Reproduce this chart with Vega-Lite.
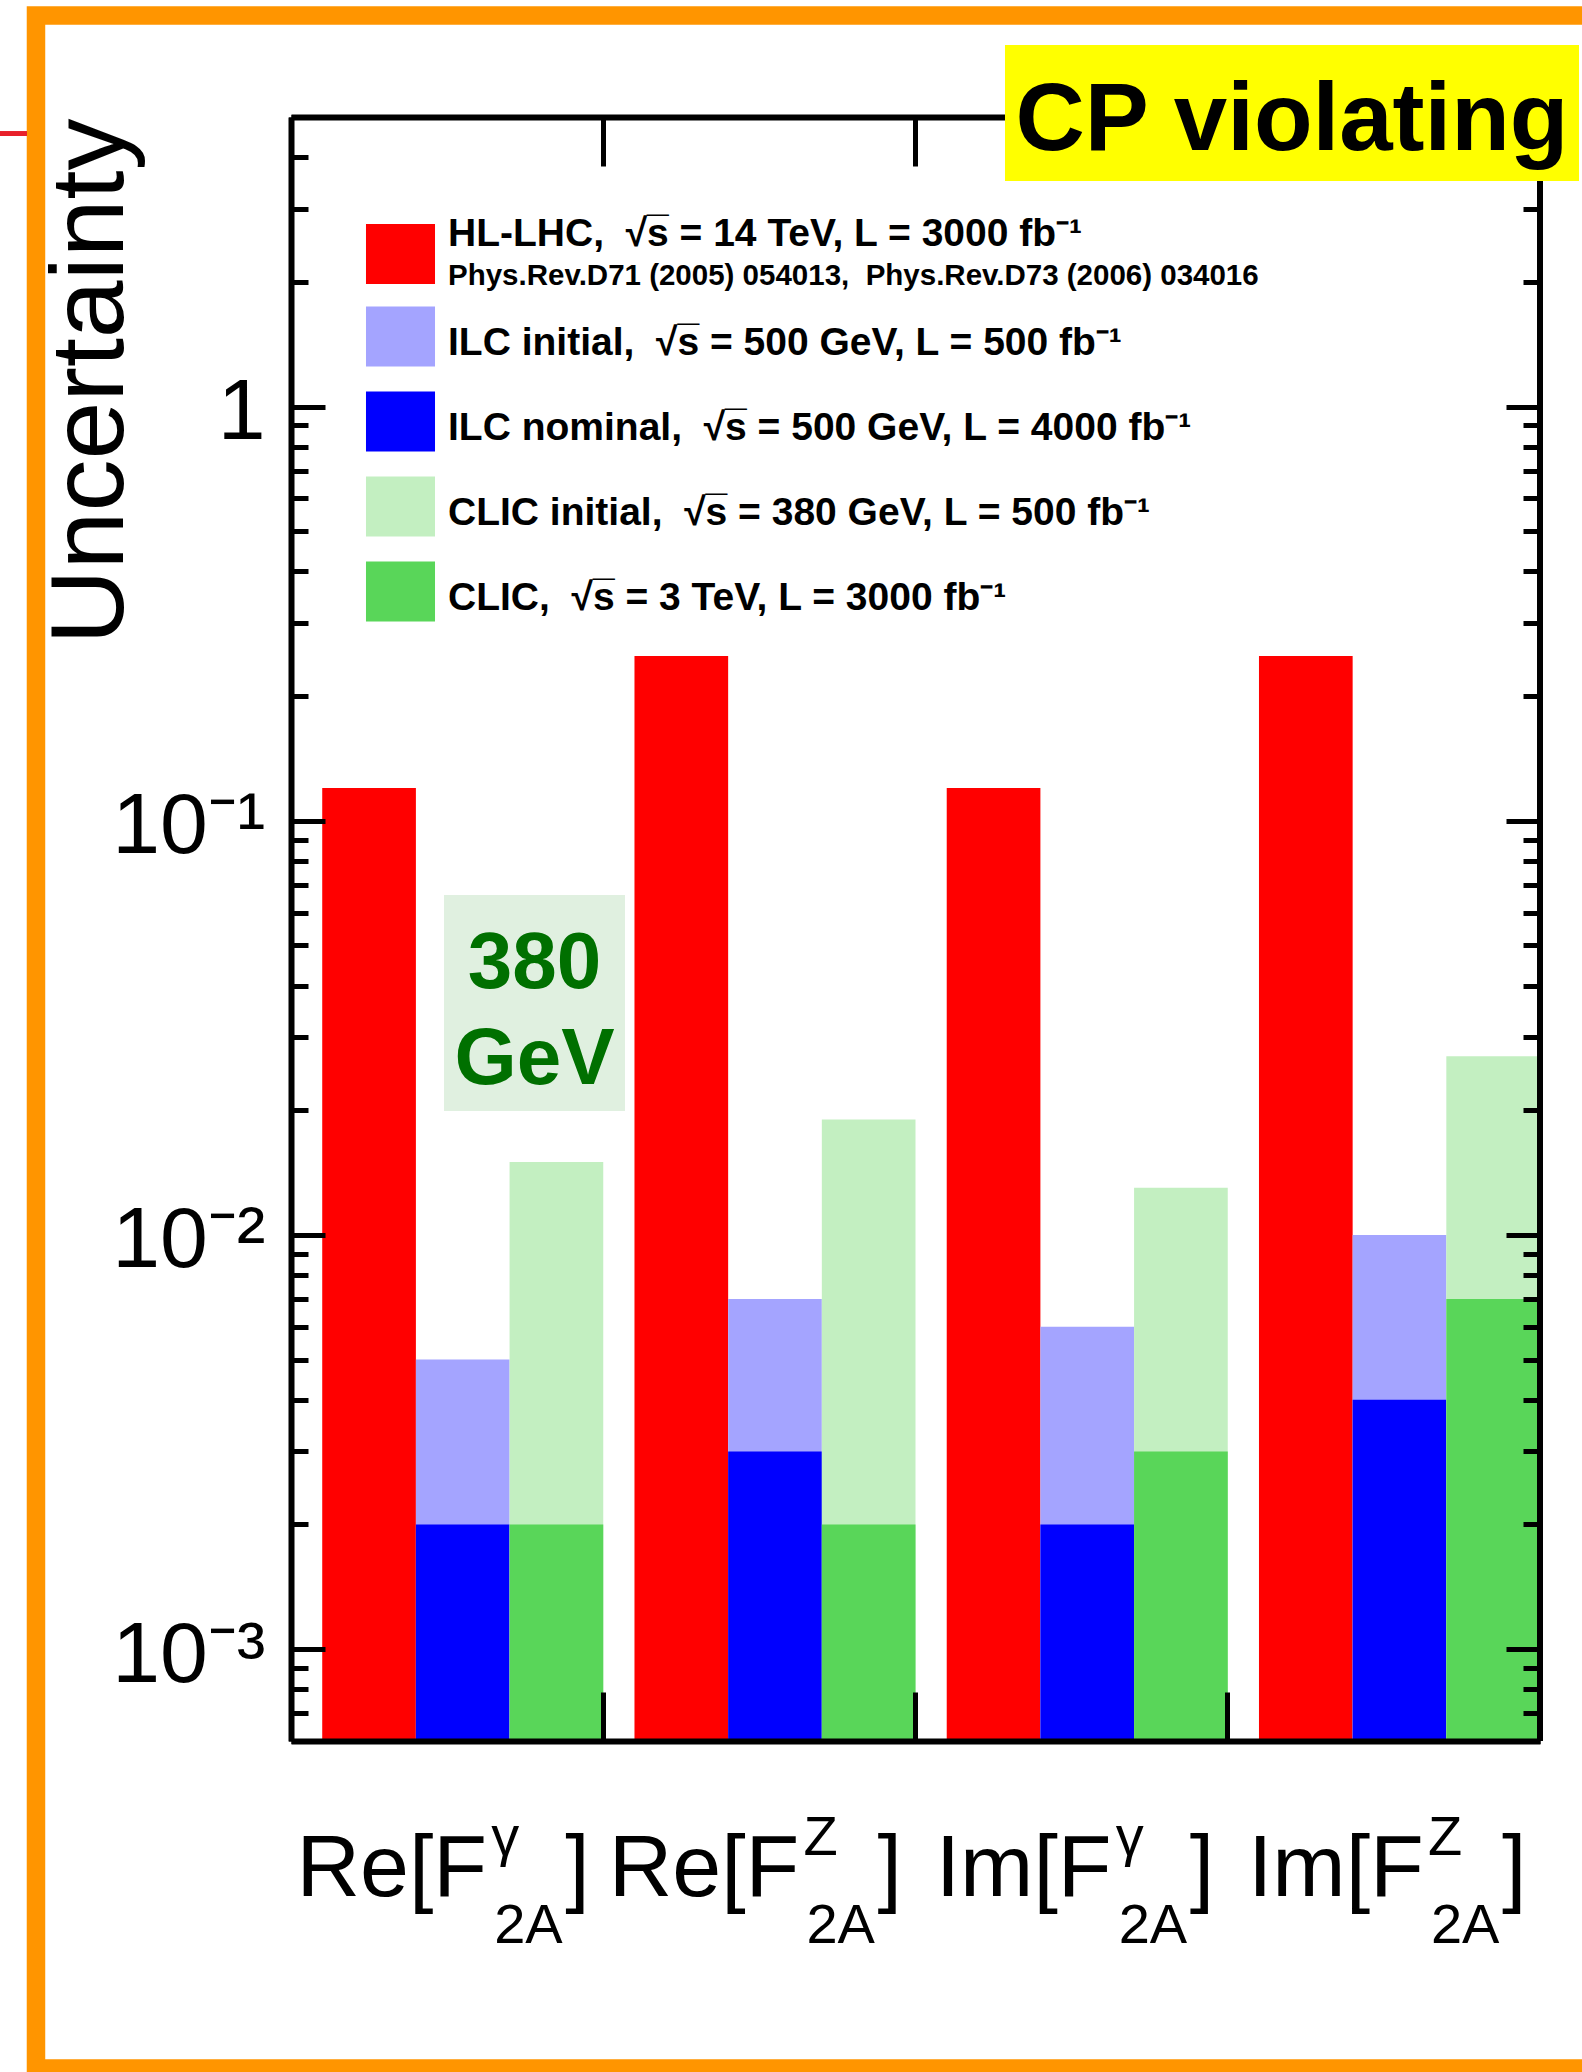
{
  "$schema": "https://vega.github.io/schema/vega-lite/v6.json",
  "width": 1249,
  "height": 1624,
  "autosize": {"type": "none"},
  "padding": {"left": 291, "top": 117, "right": 42, "bottom": 331},
  "background": "white",
  "config": {"view": {"stroke": null}, "font": "Liberation Sans", "axis": {"grid": false}},
  "datasets": {
    "bars": [
      {"param": "Re F2A γ", "collider": "HL-LHC", "series": "HL-LHC", "value": 0.12},
      {"param": "Re F2A γ", "collider": "ILC", "series": "ILC initial", "value": 0.005},
      {"param": "Re F2A γ", "collider": "ILC", "series": "ILC nominal", "value": 0.002},
      {"param": "Re F2A γ", "collider": "CLIC", "series": "CLIC initial", "value": 0.015},
      {"param": "Re F2A γ", "collider": "CLIC", "series": "CLIC", "value": 0.002},
      {"param": "Re F2A Z", "collider": "HL-LHC", "series": "HL-LHC", "value": 0.25},
      {"param": "Re F2A Z", "collider": "ILC", "series": "ILC initial", "value": 0.007},
      {"param": "Re F2A Z", "collider": "ILC", "series": "ILC nominal", "value": 0.003},
      {"param": "Re F2A Z", "collider": "CLIC", "series": "CLIC initial", "value": 0.019},
      {"param": "Re F2A Z", "collider": "CLIC", "series": "CLIC", "value": 0.002},
      {"param": "Im F2A γ", "collider": "HL-LHC", "series": "HL-LHC", "value": 0.12},
      {"param": "Im F2A γ", "collider": "ILC", "series": "ILC initial", "value": 0.006},
      {"param": "Im F2A γ", "collider": "ILC", "series": "ILC nominal", "value": 0.002},
      {"param": "Im F2A γ", "collider": "CLIC", "series": "CLIC initial", "value": 0.013},
      {"param": "Im F2A γ", "collider": "CLIC", "series": "CLIC", "value": 0.003},
      {"param": "Im F2A Z", "collider": "HL-LHC", "series": "HL-LHC", "value": 0.25},
      {"param": "Im F2A Z", "collider": "ILC", "series": "ILC initial", "value": 0.01},
      {"param": "Im F2A Z", "collider": "ILC", "series": "ILC nominal", "value": 0.004},
      {"param": "Im F2A Z", "collider": "CLIC", "series": "CLIC initial", "value": 0.027},
      {"param": "Im F2A Z", "collider": "CLIC", "series": "CLIC", "value": 0.007}
    ],
    "params": [
      {"param": "Re F2A γ", "pre": "Re[F", "sup": "γ"},
      {"param": "Re F2A Z", "pre": "Re[F", "sup": "Z"},
      {"param": "Im F2A γ", "pre": "Im[F", "sup": "γ"},
      {"param": "Im F2A Z", "pre": "Im[F", "sup": "Z"}
    ]
  },
  "resolve": {"axis": {"x": "independent", "y": "independent"}, "scale": {"color": "independent"}, "legend": {"color": "independent"}},
  "layer": [
    {
      "data": {"values": [{}]},
      "mark": {"type": "rect", "filled": false, "stroke": "#ff9500", "strokeWidth": 18.5},
      "encoding": {
        "x": {"datum": "Re F2A γ", "type": "nominal", "bandPosition": -0.8167, "axis": null,
              "scale": {"type": "band", "domain": ["Re F2A γ", "Re F2A Z", "Im F2A γ", "Im F2A Z"], "paddingInner": 0, "paddingOuter": 0}},
        "x2": {"datum": "Im F2A Z", "bandPosition": 1.1921},
        "y": {"datum": 8.79, "type": "quantitative", "axis": null, "scale": {"type": "log", "domain": [0.0006, 5], "nice": false}},
        "y2": {"datum": 0.00009716}
      }
    },
    {
      "data": {"values": [{}]},
      "mark": {"type": "rule", "stroke": "#e8202a", "strokeWidth": 5},
      "encoding": {
        "x": {"datum": "Re F2A γ", "type": "nominal", "bandPosition": -0.932, "axis": null},
        "x2": {"datum": "Re F2A γ", "bandPosition": -0.8455},
        "y": {"datum": 4.561, "type": "quantitative", "axis": null}
      }
    },
    {
      "data": {"values": [{}]},
      "mark": {"type": "rect", "fill": "#e0f0e0"},
      "encoding": {
        "x": {"datum": "Re F2A γ", "type": "nominal", "bandPosition": 0.49, "axis": null},
        "x2": {"datum": "Re F2A Z", "bandPosition": 0.0697},
        "y": {"datum": 0.06616, "type": "quantitative", "axis": null},
        "y2": {"datum": 0.019915}
      }
    },
    {
      "data": {"name": "bars"},
      "transform": [{"filter": "datum.series === 'HL-LHC'"}],
      "mark": {"type": "bar"},
      "encoding": {
        "x": {"field": "param", "type": "nominal",
              "scale": {"type": "band", "domain": ["Re F2A γ", "Re F2A Z", "Im F2A γ", "Im F2A Z"], "paddingInner": 0, "paddingOuter": 0},
              "axis": {"orient": "bottom", "title": null, "labels": false, "bandPosition": 0, "tickSize": -49, "tickWidth": 5, "tickColor": "black", "domainColor": "black", "domainWidth": 6, "zindex": 1}},
        "xOffset": {"field": "collider", "type": "nominal",
                    "scale": {"domain": ["HL-LHC", "ILC", "CLIC"], "paddingInner": 0, "paddingOuter": 0.16667, "align": 1}},
        "y": {"field": "value", "type": "quantitative", "stack": null,
              "scale": {"type": "log", "domain": [0.0006, 5], "nice": false},
              "axis": {"orient": "left",
                       "values": [0.0006, 0.0007, 0.0008, 0.0009, 0.001, 0.002, 0.003, 0.004, 0.005, 0.006, 0.007, 0.008, 0.009, 0.01, 0.02, 0.03, 0.04, 0.05, 0.06, 0.07, 0.08, 0.09, 0.1, 0.2, 0.3, 0.4, 0.5, 0.6, 0.7, 0.8, 0.9, 1, 2, 3, 4, 5],
                       "labelExpr": "datum.value === 1 ? '1' : datum.value === 0.1 ? '10⁻¹' : datum.value === 0.01 ? '10⁻²' : datum.value === 0.001 ? '10⁻³' : ''",
                       "labelFont": "Liberation Sans", "labelFontSize": 86, "labelColor": "black", "labelPadding": 60, "labelOffset": 6,
                       "labelOverlap": false, "labelFlush": false, "labelBound": false,
                       "tickSize": {"condition": {"test": "datum.value === 1 || datum.value === 0.1 || datum.value === 0.01 || datum.value === 0.001", "value": -34}, "value": -17},
                       "tickWidth": 5, "tickColor": "black", "domainColor": "black", "domainWidth": 6,
                       "title": "Uncertainty", "titleFont": "Liberation Sans", "titleFontSize": 104, "titleFontWeight": "normal", "titleColor": "black",
                       "titleAngle": 270, "titleAlign": "right", "titleBaseline": "alphabetic", "titleX": -169, "titleY": 1, "zindex": 1}},
        "color": {"field": "series", "type": "nominal",
                  "scale": {"domain": ["HL-LHC"], "range": ["#ff0000"]},
                  "legend": {"orient": "none", "legendX": 70.5, "legendY": 98, "title": null, "padding": 0,
                             "symbolType": "M-0.885,-0.77H0.885V0.77H-0.885Z", "symbolSize": 6084, "symbolStrokeWidth": 0,
                             "labelFont": "Liberation Sans", "labelFontWeight": "bold", "labelFontSize": 39, "labelColor": "black",
                             "labelBaseline": "bottom", "labelLimit": 2000, "labelOffset": 8.5,
                             "labelExpr": "'HL-LHC,\u00a0 √s̅ = 14 TeV, L = 3000 fb⁻¹'"}}
      }
    },
    {
      "data": {"name": "bars"},
      "transform": [{"filter": "datum.series !== 'HL-LHC'"}],
      "mark": {"type": "bar"},
      "encoding": {
        "x": {"field": "param", "type": "nominal", "axis": null},
        "xOffset": {"field": "collider", "type": "nominal"},
        "y": {"field": "value", "type": "quantitative", "stack": null, "axis": null},
        "color": {"field": "series", "type": "nominal",
                  "scale": {"domain": ["ILC initial", "ILC nominal", "CLIC initial", "CLIC"],
                            "range": ["#a4a4ff", "#0000ff", "#c3efc1", "#59d659"]},
                  "legend": {"orient": "none", "legendX": 70.5, "legendY": 186.5, "title": null, "padding": 0,
                             "symbolType": "M-0.885,-0.924H0.885V0.616H-0.885Z", "symbolSize": 6084, "symbolStrokeWidth": 0,
                             "labelFont": "Liberation Sans", "labelFontWeight": "bold", "labelFontSize": 39, "labelColor": "black",
                             "labelLimit": 2000, "labelOffset": 8.5, "rowPadding": 21,
                             "labelExpr": "datum.value === 'ILC initial' ? 'ILC initial,\u00a0 √s̅ = 500 GeV, L = 500 fb⁻¹' : datum.value === 'ILC nominal' ? 'ILC nominal,\u00a0 √s̅ = 500 GeV, L = 4000 fb⁻¹' : datum.value === 'CLIC initial' ? 'CLIC initial,\u00a0 √s̅ = 380 GeV, L = 500 fb⁻¹' : 'CLIC,\u00a0 √s̅ = 3 TeV, L = 3000 fb⁻¹'"}}
      }
    },
    {
      "data": {"values": [{}]},
      "mark": {"type": "rule", "stroke": "black", "strokeWidth": 6},
      "encoding": {
        "x": {"datum": "Im F2A Z", "type": "nominal", "bandPosition": 1, "axis": null},
        "y": {"datum": 5, "type": "quantitative", "axis": null},
        "y2": {"datum": 0.0006}
      }
    },
    {
      "data": {"name": "params"},
      "mark": {"type": "text", "align": "right", "baseline": "alphabetic", "dx": 40, "dy": 155, "fontSize": 88, "font": "Liberation Sans", "fill": "black"},
      "encoding": {
        "x": {"field": "param", "type": "nominal",
              "axis": {"orient": "top", "title": null, "labels": false, "bandPosition": 0, "tickSize": -49, "tickWidth": 5, "tickColor": "black", "domainColor": "black", "domainWidth": 6, "zindex": 0}},
        "y": {"datum": 0.0006, "type": "quantitative",
              "axis": {"orient": "right", "title": null, "labels": false, "domain": false,
                       "values": [0.0006, 0.0007, 0.0008, 0.0009, 0.001, 0.002, 0.003, 0.004, 0.005, 0.006, 0.007, 0.008, 0.009, 0.01, 0.02, 0.03, 0.04, 0.05, 0.06, 0.07, 0.08, 0.09, 0.1, 0.2, 0.3, 0.4, 0.5, 0.6, 0.7, 0.8, 0.9, 1, 2, 3],
                       "tickSize": {"condition": {"test": "datum.value === 1 || datum.value === 0.1 || datum.value === 0.01 || datum.value === 0.001", "value": -34}, "value": -17},
                       "tickWidth": 5, "tickColor": "black", "zindex": 1}},
        "text": {"field": "pre"}
      }
    },
    {
      "data": {"name": "params"},
      "mark": {"type": "text", "align": "left", "baseline": "alphabetic", "dx": 44, "dy": 114, "fontSize": 56, "font": "Liberation Sans", "fill": "black"},
      "encoding": {
        "x": {"field": "param", "type": "nominal", "axis": null},
        "y": {"datum": 0.0006, "type": "quantitative", "axis": null},
        "text": {"field": "sup"}
      }
    },
    {
      "data": {"name": "params"},
      "mark": {"type": "text", "align": "left", "baseline": "alphabetic", "dx": 47, "dy": 202, "fontSize": 56, "font": "Liberation Sans", "fill": "black", "text": "2A"},
      "encoding": {
        "x": {"field": "param", "type": "nominal", "axis": null},
        "y": {"datum": 0.0006, "type": "quantitative", "axis": null}
      }
    },
    {
      "data": {"name": "params"},
      "mark": {"type": "text", "align": "left", "baseline": "alphabetic", "dx": 118, "dy": 155, "fontSize": 88, "font": "Liberation Sans", "fill": "black", "text": "]"},
      "encoding": {
        "x": {"field": "param", "type": "nominal", "axis": null},
        "y": {"datum": 0.0006, "type": "quantitative", "axis": null}
      }
    },
    {
      "data": {"values": [{}]},
      "mark": {"type": "rect", "fill": "#ffff00"},
      "encoding": {
        "x": {"datum": "Im F2A γ", "type": "nominal", "bandPosition": 0.2866, "axis": null},
        "x2": {"datum": "Im F2A Z", "bandPosition": 1.1249},
        "y": {"datum": 7.461, "type": "quantitative", "axis": null},
        "y2": {"datum": 3.503}
      }
    },
    {
      "data": {"values": [{}]},
      "mark": {"type": "text", "align": "center", "baseline": "alphabetic", "fontSize": 96, "fontWeight": "bold", "font": "Liberation Sans", "fill": "black", "text": "CP violating"},
      "encoding": {
        "x": {"datum": "Im F2A Z", "type": "nominal", "bandPosition": 0.2058, "axis": null},
        "y": {"datum": 4.162, "type": "quantitative", "axis": null}
      }
    },
    {
      "data": {"values": [{}]},
      "mark": {"type": "text", "align": "center", "baseline": "alphabetic", "fontSize": 80, "fontWeight": "bold", "font": "Liberation Sans", "fill": "#007000", "lineHeight": 96, "text": ["380", "GeV"]},
      "encoding": {
        "x": {"datum": "Re F2A γ", "type": "nominal", "bandPosition": 0.7798, "axis": null},
        "y": {"datum": 0.039456, "type": "quantitative", "axis": null}
      }
    },
    {
      "data": {"values": [{}]},
      "mark": {"type": "text", "align": "left", "baseline": "alphabetic", "fontSize": 29.5, "fontWeight": "bold", "font": "Liberation Sans", "fill": "black", "text": "Phys.Rev.D71 (2005) 054013,\u00a0 Phys.Rev.D73 (2006) 034016"},
      "encoding": {
        "x": {"datum": "Re F2A γ", "type": "nominal", "bandPosition": 0.5028, "axis": null},
        "y": {"datum": 1.9652, "type": "quantitative", "axis": null}
      }
    }
  ]
}
